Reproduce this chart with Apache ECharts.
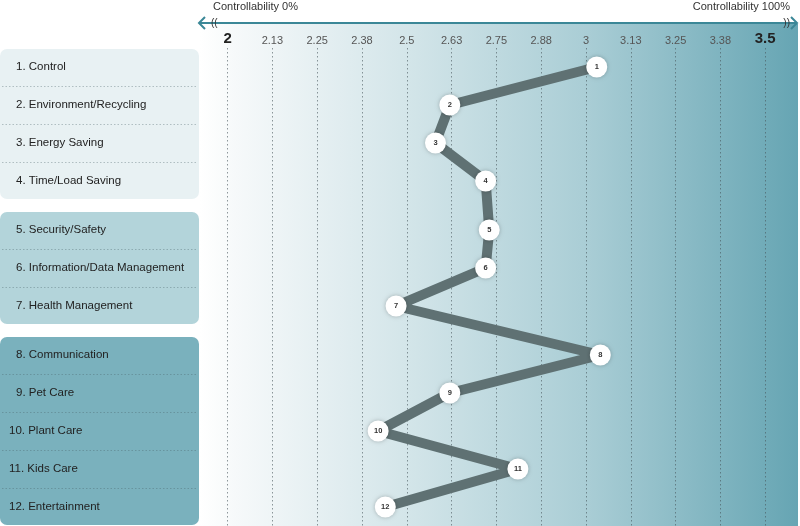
<!DOCTYPE html>
<html>
<head>
<meta charset="utf-8">
<script src="https://cdn.jsdelivr.net/npm/echarts@6/dist/echarts.min.js"></script>
<style>
html,body{margin:0;padding:0;background:#fff;}
#chart{width:800px;height:526px;}
</style>
</head>
<body>
<div id="chart"></div>
<script>
// ---- data ----
const categories = [
  '1. Control', '2. Environment/Recycling', '3. Energy Saving', '4. Time/Load Saving',
  '5. Security/Safety', '6. Information/Data Management', '7. Health Management',
  '8. Communication', '9. Pet Care', '10. Plant Care', '11. Kids Care', '12. Entertainment'
];
const groups = [0, 0, 0, 0, 1, 1, 1, 2, 2, 2, 2, 2];
const values = [3.03, 2.62, 2.58, 2.72, 2.73, 2.72, 2.47, 3.04, 2.62, 2.42, 2.81, 2.44];
const tickLabels = ['2', '2.13', '2.25', '2.38', '2.5', '2.63', '2.75', '2.88', '3', '3.13', '3.25', '3.38', '3.5'];
const axisTitles = ['Controllability 0%', 'Controllability 100%'];
const groupColors = ['#e8f1f3', '#b3d4da', '#7ab1bd'];

// ---- layout helpers ----
const GAP = 11 / 38;
const yPos = i => i + groups[i] * GAP;
const yMin = -0.5;
const yMax = yPos(categories.length - 1) + 0.5;

const boxData = [];
groups.forEach((g, i) => {
  if (!boxData.length || boxData[boxData.length - 1][0] !== g) boxData.push([g, i, i]);
  else boxData[boxData.length - 1][2] = i;
});

const chart = echarts.init(document.getElementById('chart'), null, {renderer: 'canvas'});
const FONT = 'Liberation Sans, Arial, sans-serif';

const option = {
  animation: false,
  backgroundColor: '#fff',
  grid: [
    {left: 0, width: 199, top: 48, bottom: 0},
    {left: 227.6, width: 537.6, top: 48, bottom: 0}
  ],
  xAxis: [
    {gridIndex: 0, type: 'value', min: 0, max: 1, show: false},
    {
      gridIndex: 1, type: 'value', min: 2, max: 3.5, interval: 0.125, position: 'top',
      axisLine: {show: false}, axisTick: {show: false},
      splitLine: {show: true, lineStyle: {type: [1.5, 2.5], color: 'rgba(70,85,90,0.6)', width: 1}},
      axisLabel: {
        margin: 2, fontSize: 11, color: '#555', fontFamily: FONT,
        formatter: (v, idx) => {
          const t = tickLabels[idx];
          return (idx === 0 || idx === tickLabels.length - 1) ? '{e|' + t + '}' : t;
        },
        rich: {e: {fontSize: 15, fontWeight: 'bold', color: '#222', fontFamily: FONT}}
      }
    }
  ],
  yAxis: [
    {gridIndex: 0, type: 'value', inverse: true, min: yMin, max: yMax, show: false},
    {gridIndex: 1, type: 'value', inverse: true, min: yMin, max: yMax, show: false}
  ],
  graphic: [
    {
      type: 'rect', z: -10, silent: true,
      shape: {x: 200, y: 24, width: 598, height: 502},
      style: {
        fill: new echarts.graphic.LinearGradient(0, 0, 1, 0, [
          {offset: 0, color: '#ffffff'},
          {offset: 0.06, color: '#f6f9fa'},
          {offset: 0.35, color: '#d3e5e9'},
          {offset: 0.65, color: '#a9cdd5'},
          {offset: 1, color: '#66a5b3'}
        ])
      }
    },
    {type: 'line', silent: true, shape: {x1: 199, y1: 23, x2: 797, y2: 23}, style: {stroke: '#3b8797', lineWidth: 2}},
    {type: 'polyline', silent: true, shape: {points: [[205, 17], [199, 23], [205, 29]]}, style: {stroke: '#3b8797', lineWidth: 2, fill: null}},
    {type: 'polyline', silent: true, shape: {points: [[791, 17], [797, 23], [791, 29]]}, style: {stroke: '#3b8797', lineWidth: 2, fill: null}},
    {type: 'text', silent: true, x: 211, y: 23, style: {text: '((', fontSize: 10, fill: '#333', verticalAlign: 'middle', fontFamily: FONT}},
    {type: 'text', silent: true, x: 790, y: 23, style: {text: '))', fontSize: 10, fill: '#333', verticalAlign: 'middle', align: 'right', fontFamily: FONT}},
    {type: 'text', silent: true, x: 213, y: 7, style: {text: axisTitles[0], fontSize: 11, fill: '#333', verticalAlign: 'middle', fontFamily: FONT}},
    {type: 'text', silent: true, x: 790, y: 7, style: {text: axisTitles[1], fontSize: 11, fill: '#333', verticalAlign: 'middle', align: 'right', fontFamily: FONT}}
  ],
  series: [
    {
      type: 'custom', xAxisIndex: 0, yAxisIndex: 0, clip: false, silent: true,
      data: boxData,
      renderItem: (params, api) => {
        const g = api.value(0), f = api.value(1), l = api.value(2);
        const p0 = api.coord([0, yPos(f) - 0.5]);
        const p1 = api.coord([1, yPos(l) + 0.5]);
        const children = [{
          type: 'rect',
          shape: {x: p0[0], y: p0[1] + 1, width: p1[0] - p0[0], height: p1[1] - p0[1] - 2, r: 7},
          style: {fill: groupColors[g]}
        }];
        for (let r = f; r < l; r++) {
          const y = Math.round(api.coord([0, yPos(r) + 0.5])[1]) + 0.5;
          children.push({
            type: 'line',
            shape: {x1: p0[0] + 2, y1: y, x2: p1[0] - 2, y2: y},
            style: {stroke: 'rgba(70,95,100,0.35)', lineWidth: 1, lineDash: [1.5, 2]}
          });
        }
        for (let r = f; r <= l; r++) {
          const y = api.coord([0, yPos(r)])[1];
          const x = (r + 1) >= 10 ? 9 : 16;
          children.push({
            type: 'text', x: x, y: y,
            style: {text: categories[r], fontSize: 11.5, fill: '#222', verticalAlign: 'middle', align: 'left', fontFamily: FONT}
          });
        }
        return {type: 'group', children: children};
      }
    },
    {
      type: 'line', xAxisIndex: 1, yAxisIndex: 1,
      data: values.map((v, i) => [v, yPos(i)]),
      lineStyle: {color: '#5f7173', width: 10, join: 'round'},
      symbol: 'circle', symbolSize: 21,
      itemStyle: {color: '#ffffff', shadowBlur: 4, shadowColor: 'rgba(0,0,0,0.25)'},
      label: {
        show: true, position: 'inside', fontSize: 7.5, fontWeight: 'bold', color: '#333', fontFamily: FONT,
        formatter: p => String(p.dataIndex + 1)
      },
      z: 5
    }
  ]
};
chart.setOption(option);
</script>
</body>
</html>
